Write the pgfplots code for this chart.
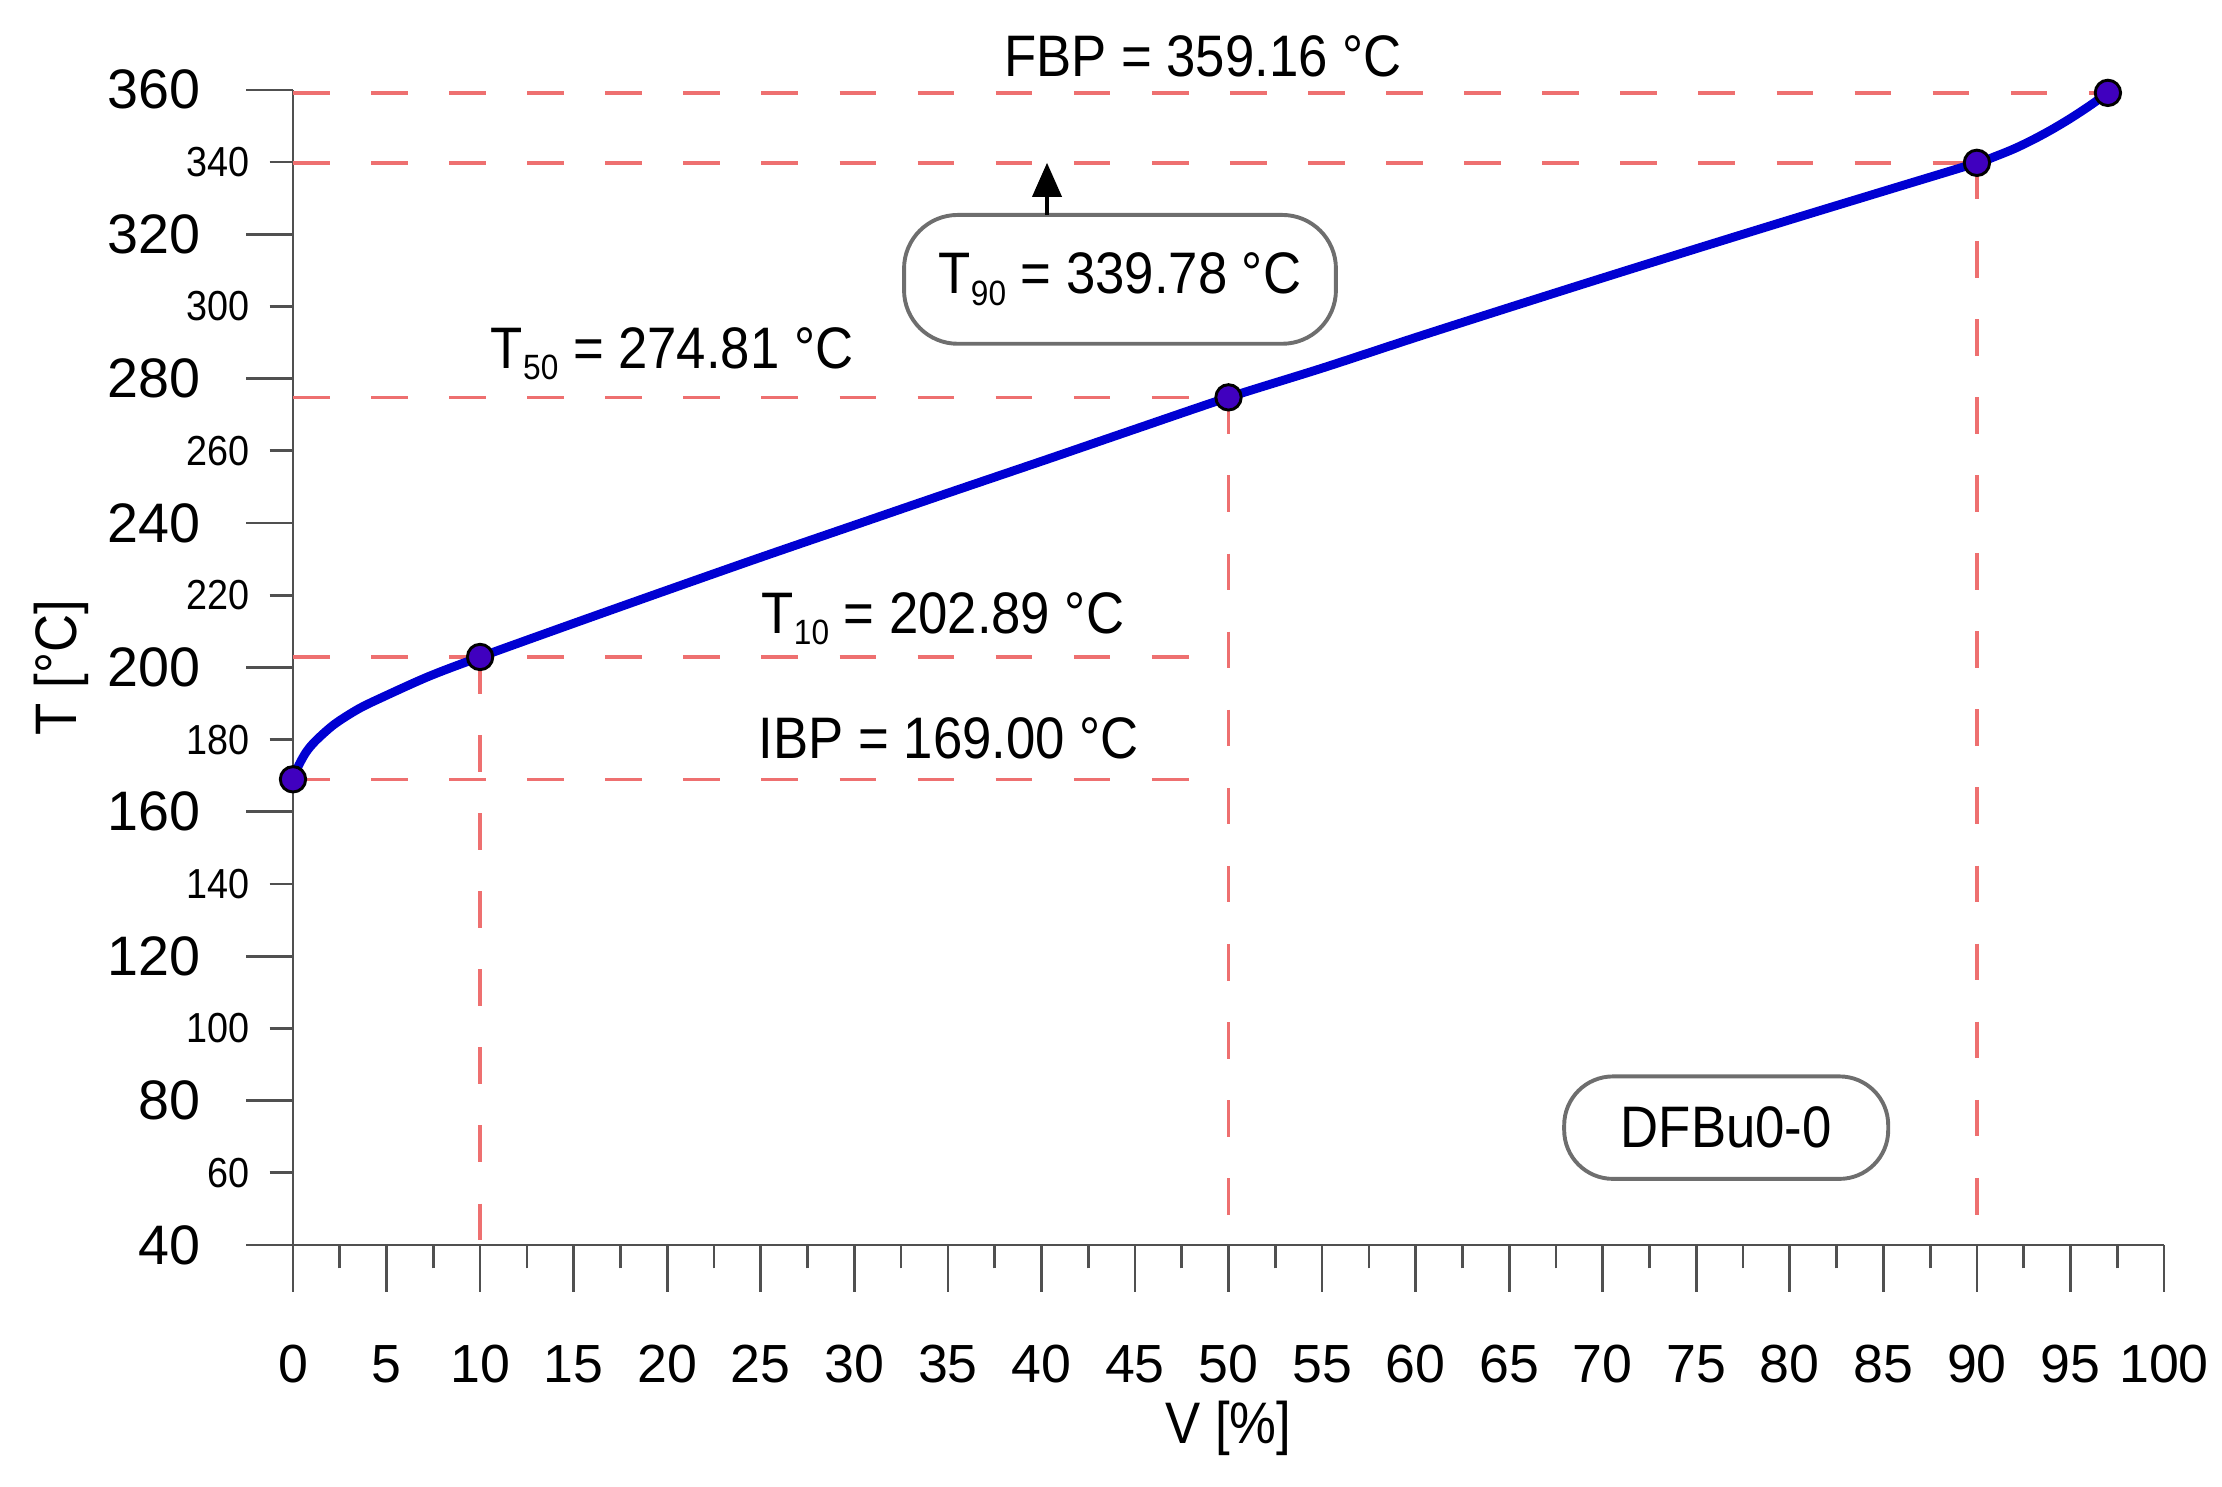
\documentclass[border=0pt]{standalone}
\usepackage{fontspec}
\setmainfont{Liberation Sans}
\newfontfamily\cond{Liberation Sans}[FakeStretch=0.9]
\usepackage{pgfplots}
\pgfplotsset{compat=1.18}
\usetikzlibrary{arrows.meta}
\definecolor{dashred}{RGB}{238,112,112}
\definecolor{curveblue}{RGB}{0,0,210}
\definecolor{axgray}{RGB}{80,80,80}
\definecolor{boxgray}{RGB}{110,110,110}

\begin{document}
\begin{tikzpicture}
\begin{axis}[
  scale only axis, width=383.4pt, height=236.7pt,
  xmin=0, xmax=100, ymin=40, ymax=360,
  clip=false,
  axis x line*=bottom, axis y line*=left,
  axis line style={axgray, line width=0.55pt},
  every tick/.style={axgray, line width=0.55pt},
  tick align=outside,
  major tick length=9.6pt, minor tick length=4.8pt,
  xtick={0,5,...,100}, minor xtick={2.5,7.5,...,97.5},
  ytick={40,80,...,360},
  extra y ticks={60,100,...,340},
  extra y tick style={major tick length=4.8pt,
     yticklabel style={font=\cond\fontsize{8.6}{10}\selectfont, xshift=5.1pt}},
  xticklabel style={font=\fontsize{11}{13}\selectfont, inner sep=0pt, anchor=base, yshift=-18.5pt},
  yticklabel style={font=\fontsize{11.4}{13}\selectfont, inner sep=0pt, anchor=east, xshift=-9.1pt},
  /pgf/number format/assume math mode=true,
]
% dashed guide lines
\addplot[dashred, line width=0.7pt, dash pattern=on 7.5pt off 8.5pt] coordinates {(0,169) (50,169)};
\addplot[dashred, line width=0.7pt, dash pattern=on 7.5pt off 8.5pt] coordinates {(0,202.89) (50,202.89)};
\addplot[dashred, line width=0.7pt, dash pattern=on 7.5pt off 8.5pt] coordinates {(0,274.81) (50,274.81)};
\addplot[dashred, line width=0.7pt, dash pattern=on 7.5pt off 8.5pt] coordinates {(0,339.78) (90,339.78)};
\addplot[dashred, line width=0.7pt, dash pattern=on 7.5pt off 8.5pt] coordinates {(0,359.16) (97,359.16)};
\addplot[dashred, line width=0.7pt, dash pattern=on 7.5pt off 8.5pt] coordinates {(10,202.89) (10,40)};
\addplot[dashred, line width=0.7pt, dash pattern=on 7.5pt off 8.5pt] coordinates {(50,274.81) (50,40)};
\addplot[dashred, line width=0.7pt, dash pattern=on 7.5pt off 8.5pt] coordinates {(90,339.78) (90,40)};
% distillation curve
\addplot[curveblue, line width=1.8pt, line join=round, line cap=round, smooth, tension=0.5] coordinates {
 (0,169) (0.3,172.8) (0.7,176.5) (1.2,179.6) (2.2,184.2) (3.5,188.5) (4.85,191.9)
 (7.3,197.6) (10,202.89) (15,212.2) (20,221.4) (25,230.5) (30,239.4) (35,248.3)
 (40,257.1) (45,266.0) (50,274.81) (55,282.9) (60,291.4) (65,299.7) (70,307.9)
 (75,316.0) (80,324.0) (85,331.9) (90,339.78) (91,341.6) (92,343.7) (93,346.2)
 (94,349.0) (95,352.1) (96,355.5) (97,359.16)};
% characteristic points
\addplot[only marks, mark=*, mark size=2.6pt,
  mark options={draw=black, fill=blue!75!red, line width=0.6pt}]
  coordinates {(0,169) (10,202.89) (50,274.81) (90,339.78) (97,359.16)};
% annotations
\node[anchor=base west, inner sep=0pt, font=\cond\fontsize{12}{14}\selectfont] at (axis cs:37.95,363.8) {FBP = 359.16 °C};
\node[anchor=base west, inner sep=0pt, font=\cond\fontsize{12}{14}\selectfont] at (axis cs:10.53,282.9) {T\raisebox{-2.4pt}{\fontsize{7.2}{8}\selectfont 50} = 274.81 °C};
\node[anchor=base west, inner sep=0pt, font=\cond\fontsize{12}{14}\selectfont] at (axis cs:25.0,209.5) {T\raisebox{-2.4pt}{\fontsize{7.2}{8}\selectfont 10} = 202.89 °C};
\node[anchor=base west, inner sep=0pt, font=\cond\fontsize{12}{14}\selectfont] at (axis cs:24.85,174.8) {IBP = 169.00 °C};
\node[draw=boxgray, line width=0.8pt, rounded corners=11pt, minimum width=88.5pt, minimum height=26.4pt,
  inner sep=0pt, font=\cond\fontsize{12}{14}\selectfont] at (axis cs:44.2,307.5)
  {T\raisebox{-2.4pt}{\fontsize{7.2}{8}\selectfont 90} = 339.78 °C};
\draw[black, line width=0.7pt, -{Triangle[width=6pt,length=7pt]}] (axis cs:40.3,325.4) -- (axis cs:40.3,339.78);
\node[draw=boxgray, line width=0.8pt, rounded corners=10pt, minimum width=66.4pt, minimum height=21pt,
  inner sep=0pt, font=\cond\fontsize{12}{14}\selectfont] at (axis cs:76.6,72.5) {DFBu0-0};
% axis labels
\node[anchor=base, inner sep=0pt, font=\cond\fontsize{12}{14}\selectfont] at (axis cs:50,40) [yshift=-40.6pt] {V [\%]};
\node[anchor=base, rotate=90, inner sep=0pt, font=\cond\fontsize{12}{14}\selectfont] at (axis cs:-11.56,200) {T [°C]};
% frame of the reference picture
\coordinate (bbSW) at (axis cs:-15.66,-27.05);
\coordinate (bbNE) at (axis cs:103.1,384.9);
\end{axis}
\pgfresetboundingbox
\path[use as bounding box] (bbSW) rectangle (bbNE);
\end{tikzpicture}
\end{document}
